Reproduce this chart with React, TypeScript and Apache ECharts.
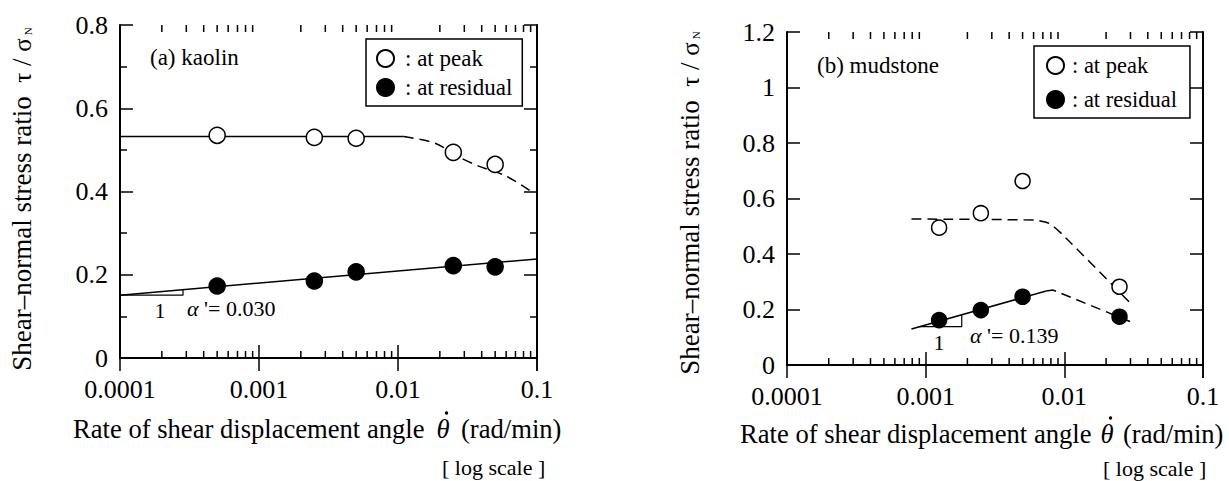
import React, { useEffect, useRef } from 'react';
import * as echarts from 'echarts';

// ---------- data ----------
const xTickLabels = ['0.0001', '0.001', '0.01', '0.1'];
const minorTickRates = [
  0.0002, 0.0003, 0.0004, 0.0005, 0.0006, 0.0007, 0.0008, 0.0009,
  0.002, 0.003, 0.004, 0.005, 0.006, 0.007, 0.008, 0.009,
  0.02, 0.03, 0.04, 0.05, 0.06, 0.07, 0.08, 0.09,
];

// (a) kaolin
const kaolinRates = [0.0005, 0.0025, 0.005, 0.025, 0.05];
const kaolinPeak = [0.535, 0.53, 0.528, 0.494, 0.465];
const kaolinResidual = [0.173, 0.185, 0.207, 0.222, 0.219];
const kaolinPeakFitRates = [0.0001, 0.011];
const kaolinPeakFit = [0.532, 0.532];
const kaolinPeakTrendRates = [0.011, 0.0185, 0.027, 0.038, 0.06, 0.093];
const kaolinPeakTrend = [0.532, 0.516, 0.484, 0.461, 0.437, 0.398];
const kaolinResidualFitRates = [0.0001, 0.1];
const kaolinResidualFit = [0.151, 0.238];
const kaolinSlopeRates = [0.0001, 0.000284, 0.000284];
const kaolinSlope = [0.151, 0.151, 0.1646];

// (b) mudstone
const mudRates = [0.00125, 0.0025, 0.005, 0.025];
const mudPeak = [0.495, 0.547, 0.663, 0.282];
const mudResidual = [0.162, 0.198, 0.246, 0.174];
const mudPeakTrendRates = [0.00079, 0.0062, 0.0078, 0.0097, 0.031];
const mudPeakTrend = [0.526, 0.522, 0.51, 0.47, 0.215];
const mudResidualFitRates = [0.00079, 0.0074];
const mudResidualFit = [0.13, 0.267];
const mudResidualTrendRates = [0.0074, 0.0083, 0.03];
const mudResidualTrend = [0.267, 0.27, 0.156];
const mudSlopeRates = [0.0009, 0.00182, 0.00182];
const mudSlope = [0.138, 0.138, 0.18];

const legendLabels: Record<string, string> = {
  peakA: ': at peak',
  resA: ': at residual',
  peakB: ': at peak',
  resB: ': at residual',
};

const FONT = 'Liberation Serif';
const BLACK = '#000';

const zip = (xs: number[], ys: number[]) => xs.map((x, i) => [x, ys[i]]);

function xAxes(gridIndex: number) {
  const common = {
    gridIndex,
    type: 'log' as const,
    logBase: 10,
    min: 0.0001,
    max: 0.1,
    splitLine: { show: false },
    axisLine: { show: true, lineStyle: { color: BLACK, width: 2 } },
    axisTick: { show: true, inside: true, length: 13, lineStyle: { color: BLACK, width: 1.5 } },
  };
  return [
    {
      ...common,
      position: 'bottom',
      axisLabel: {
        show: true,
        color: BLACK,
        fontFamily: FONT,
        fontSize: 26,
        margin: 18,
        formatter: (v: number) => xTickLabels[Math.round(Math.log10(v)) + 4] ?? '',
      },
    },
    { ...common, position: 'top', axisLabel: { show: false } },
  ];
}

function yAxes(gridIndex: number, max: number, minor: boolean) {
  const common = {
    gridIndex,
    type: 'value' as const,
    min: 0,
    max,
    interval: 0.2,
    splitLine: { show: false },
    axisLine: { show: true, lineStyle: { color: BLACK, width: 2 } },
    axisTick: { show: true, inside: true, length: 13, lineStyle: { color: BLACK, width: 1.5 } },
    minorTick: { show: minor, splitNumber: 2, length: 7, lineStyle: { color: BLACK, width: 1.5 } },
    minorSplitLine: { show: false },
  };
  return [
    {
      ...common,
      position: 'left',
      axisLabel: { show: true, color: BLACK, fontFamily: FONT, fontSize: 26, margin: 12 },
    },
    { ...common, position: 'right', axisLabel: { show: false } },
  ];
}

function minorTickSeries(xAxisIndex: number, yAxisIndex: number) {
  return {
    type: 'custom',
    xAxisIndex,
    yAxisIndex,
    silent: true,
    z: 5,
    data: minorTickRates.map((v) => [v, 0]),
    renderItem: (params: any, api: any) => {
      const x = api.coord([api.value(0), 0])[0];
      const cs = params.coordSys;
      const bottom = cs.y + cs.height;
      const st = { stroke: BLACK, lineWidth: 1.5 };
      return {
        type: 'group',
        children: [
          { type: 'line', shape: { x1: x, y1: bottom, x2: x, y2: bottom - 7 }, style: st },
          { type: 'line', shape: { x1: x, y1: cs.y, x2: x, y2: cs.y + 7 }, style: st },
        ],
      };
    },
  };
}

function lineSeries(
  xAxisIndex: number,
  yAxisIndex: number,
  data: number[][],
  dashed: boolean,
  width = 1.5,
  smooth: number | boolean = false
) {
  return {
    type: 'line',
    xAxisIndex,
    yAxisIndex,
    data,
    symbol: 'none',
    showSymbol: false,
    silent: true,
    smooth,
    z: 3,
    lineStyle: { color: BLACK, width, type: dashed ? [10, 6] : 'solid' },
  };
}

function scatterSeries(
  name: string,
  xAxisIndex: number,
  yAxisIndex: number,
  data: number[][],
  filled: boolean,
  size: number
) {
  return {
    type: 'scatter',
    name,
    xAxisIndex,
    yAxisIndex,
    data,
    symbol: 'circle',
    symbolSize: size,
    z: 10,
    itemStyle: {
      color: filled ? BLACK : '#fff',
      borderColor: BLACK,
      borderWidth: 1.5,
      opacity: 1,
    },
  };
}

function legend(names: string[], left: number, top: number, padding: number[], itemGap: number, fontSize: number, textPad: number) {
  return {
    show: true,
    orient: 'vertical',
    left,
    top,
    data: names,
    icon: 'circle',
    itemWidth: 17,
    itemHeight: 17,
    itemGap,
    padding,
    borderColor: BLACK,
    borderWidth: 1.5,
    backgroundColor: '#fff',
    selectedMode: false,
    formatter: (n: string) => legendLabels[n] ?? n,
    textStyle: { color: BLACK, fontFamily: FONT, fontSize, lineHeight: 20, padding: [0, 0, 0, textPad] },
  };
}

function txt(text: string, x: number, y: number, fontSize: number, align = 'left', extra: any = {}) {
  const { style: extraStyle, ...rest } = extra;
  return {
    type: 'text',
    x,
    y,
    silent: true,
    z: 20,
    ...rest,
    style: {
      text,
      fill: BLACK,
      fontFamily: FONT,
      fontSize,
      align,
      verticalAlign: 'middle',
      ...(extraStyle || {}),
    },
  };
}

const yTitleRich = {
  g: { fontFamily: FONT, fontSize: 25 },
  n: { fontFamily: FONT, fontSize: 11, padding: [12, 0, 0, 3] },
};
const alphaRich = {
  a: { fontFamily: FONT, fontSize: 22, fontStyle: 'italic' },
};

export default function App() {
  const ref = useRef<HTMLDivElement>(null);

  useEffect(() => {
    if (!ref.current) return;
    const chart = echarts.init(ref.current, null, { renderer: 'svg' });
    const option: any = {
      animation: false,
      backgroundColor: '#fff',
      textStyle: { fontFamily: FONT },
      grid: [
        { left: 120, top: 25, width: 417, height: 333, containLabel: false },
        { left: 787, top: 32, width: 416, height: 333, containLabel: false },
      ],
      xAxis: [...xAxes(0), ...xAxes(1)],
      yAxis: [...yAxes(0, 0.8, true), ...yAxes(1, 1.2, false)],
      legend: [
        legend(['peakA', 'resA'], 366, 39, [8, 10, 7, 10], 6, 23, 6),
        legend(['peakB', 'resB'], 1034, 46, [8, 13, 7, 12], 11, 22.5, 3),
      ],
      series: [
        minorTickSeries(0, 0),
        lineSeries(0, 0, zip(kaolinPeakFitRates, kaolinPeakFit), false),
        lineSeries(0, 0, zip(kaolinPeakTrendRates, kaolinPeakTrend), true, 1.5, 0.3),
        lineSeries(0, 0, zip(kaolinResidualFitRates, kaolinResidualFit), false),
        lineSeries(0, 0, zip(kaolinSlopeRates, kaolinSlope), false, 1.2),
        scatterSeries('peakA', 0, 0, zip(kaolinRates, kaolinPeak), false, 16),
        scatterSeries('resA', 0, 0, zip(kaolinRates, kaolinResidual), true, 16),

        minorTickSeries(2, 2),
        lineSeries(2, 2, zip(mudPeakTrendRates, mudPeakTrend), true, 1.5, 0.2),
        lineSeries(2, 2, zip(mudResidualFitRates, mudResidualFit), false),
        lineSeries(2, 2, zip(mudResidualTrendRates, mudResidualTrend), true),
        lineSeries(2, 2, zip(mudSlopeRates, mudSlope), false, 1.2),
        scatterSeries('peakB', 2, 2, zip(mudRates, mudPeak), false, 15),
        scatterSeries('resB', 2, 2, zip(mudRates, mudResidual), true, 15),
      ],
      graphic: [
        // panel labels
        txt('(a) kaolin', 150, 57, 23),
        txt('(b) mudstone', 817, 65, 23),
        // slope annotations
        txt('1', 160, 310, 22, 'center'),
        txt("{a|α} '= 0.030", 187, 308, 22, 'left', { style: { rich: alphaRich } }),
        txt('1', 939, 342, 22, 'center'),
        txt("{a|α} '= 0.139", 970, 335, 22, 'left', { style: { rich: alphaRich } }),
        // x titles (left panel)
        txt('Rate of shear displacement angle', 73, 429, 26.6),
        txt('θ', 443, 429, 26.6, 'center', { style: { fontStyle: 'italic' } }),
        { type: 'circle', shape: { cx: 446.5, cy: 413, r: 1.7 }, style: { fill: BLACK }, silent: true, z: 20 },
        txt('(rad/min)', 461, 429, 26.6),
        txt('[ log scale ]', 442, 467, 22),
        // x titles (right panel)
        txt('Rate of shear displacement angle', 740, 434, 26.6),
        txt('θ', 1107, 434, 26.6, 'center', { style: { fontStyle: 'italic' } }),
        { type: 'circle', shape: { cx: 1110.5, cy: 418, r: 1.7 }, style: { fill: BLACK }, silent: true, z: 20 },
        txt('(rad/min)', 1123, 434, 26.6),
        txt('[ log scale ]', 1103, 468, 22),
        // y titles
        txt('Shear–normal stress ratio  {g|τ} / {g|σ}{n|N}', 22, 199, 27, 'center', {
          rotation: Math.PI / 2,
          style: { rich: yTitleRich },
        }),
        txt('Shear–normal stress ratio  {g|τ} / {g|σ}{n|N}', 690, 203, 27, 'center', {
          rotation: Math.PI / 2,
          style: { rich: yTitleRich },
        }),
      ],
    };
    chart.setOption(option);
    return () => chart.dispose();
  }, []);

  return (
    <div
      ref={ref}
      style={{ position: 'fixed', left: 0, top: 0, width: 1229, height: 481, background: '#fff' }}
    />
  );
}
